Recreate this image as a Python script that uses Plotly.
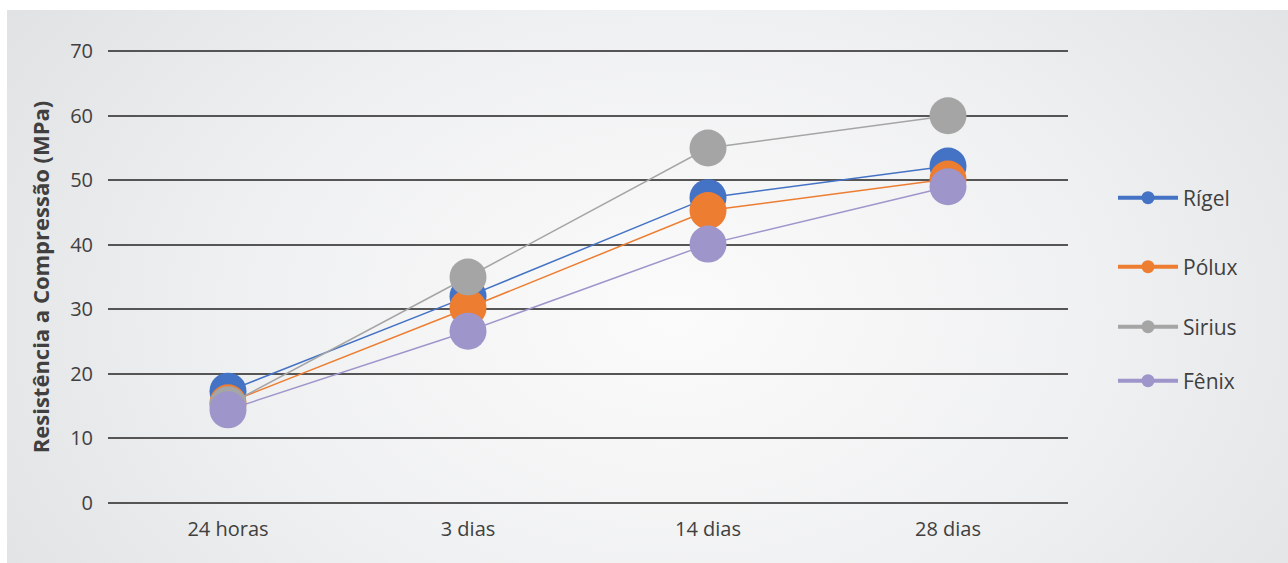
import base64
import plotly.graph_objects as go

# Compressive strength by curing age
idades = ["24 horas", "3 dias", "14 dias", "28 dias"]
rigel = [17.3, 32.0, 47.3, 52.2]
polux = [15.5, 30.2, 45.3, 50.2]
sirius = [15.2, 35.0, 55.0, 60.0]
fenix = [14.4, 26.6, 40.1, 49.0]
y_ticks = [0, 10, 20, 30, 40, 50, 60, 70]

series = [
    ("Rígel", rigel, "#4472C4"),
    ("Pólux", polux, "#ED7D31"),
    ("Sirius", sirius, "#A5A5A5"),
    ("Fênix", fenix, "#9E95CB"),
]

W, H = 1288, 563
L, R, T, B = 108, 220, 50, 59
plot_w = W - L - R
plot_h = H - T - B

fig = go.Figure()

# data traces
for name, vals, color in series:
    fig.add_trace(go.Scatter(
        x=idades, y=vals, name=name, mode="lines+markers",
        line=dict(color=color, width=1.5),
        marker=dict(size=37, color=color, line=dict(width=0)),
        cliponaxis=False, showlegend=False,
    ))

# legend entries, each in its own legend box
legend_rows = [198, 267, 327, 381]
layout_legends = {}
for i, ((name, vals, color), row) in enumerate(zip(series, legend_rows)):
    key = "legend" if i == 0 else f"legend{i + 1}"
    fig.add_trace(go.Scatter(
        x=[None], y=[None], name=name, mode="lines+markers",
        line=dict(color=color, width=4),
        marker=dict(size=13, color=color),
        legend=key, showlegend=True,
    ))
    layout_legends[key] = dict(
        x=(1113 - L) / plot_w, xanchor="left",
        y=(H - B - row) / plot_h, yanchor="middle",
        bgcolor="rgba(0,0,0,0)", borderwidth=0,
        itemwidth=60,
        font=dict(family="Open Sans", size=21, color="#404040"),
    )

# soft radial background panel
svg = (
    '<svg xmlns="http://www.w3.org/2000/svg" width="1281" height="553" '
    'viewBox="0 0 1281 553" preserveAspectRatio="none">'
    '<defs><radialGradient id="g" cx="52%" cy="55%" r="62%" '
    'gradientTransform="translate(0.52 0.55) scale(1 1.6) translate(-0.52 -0.55)">'
    '<stop offset="0" stop-color="#fbfbfb"/>'
    '<stop offset="0.55" stop-color="#eff0f1"/>'
    '<stop offset="1" stop-color="#e1e2e4"/>'
    '</radialGradient></defs>'
    '<rect width="1281" height="553" fill="url(#g)"/></svg>'
)
src = "data:image/svg+xml;base64," + base64.b64encode(svg.encode()).decode()
px0, py0, px1, py1 = 7, 10, 1288, 563
fig.add_layout_image(dict(
    source=src, xref="paper", yref="paper",
    x=(px0 - L) / plot_w, y=(H - B - py0) / plot_h,
    sizex=(px1 - px0) / plot_w, sizey=(py1 - py0) / plot_h,
    xanchor="left", yanchor="top", sizing="stretch", layer="below",
))

fig.update_layout(
    width=W, height=H,
    margin=dict(l=L, r=R, t=T, b=B),
    paper_bgcolor="white", plot_bgcolor="rgba(0,0,0,0)",
    font=dict(family="Open Sans", size=20, color="#404040"),
    **layout_legends,
)
fig.update_xaxes(
    type="category", range=[-0.5, 3.5], showgrid=False, zeroline=False,
    showline=False, ticks="", ticklabelstandoff=11,
    tickfont=dict(family="Open Sans", size=20, color="#404040"),
)
fig.update_yaxes(
    range=[-0.2, 70.2], tickvals=y_ticks, showgrid=True,
    gridcolor="#555555", gridwidth=2, zeroline=False, showline=False,
    ticks="", ticklabelstandoff=14,
    tickfont=dict(family="Open Sans", size=20, color="#404040"),
    title=dict(text="<b>Resistência a Compressão (MPa)</b>", standoff=14,
               font=dict(family="Open Sans", size=22, color="#404040")),
)

fig.write_html("out.html")
